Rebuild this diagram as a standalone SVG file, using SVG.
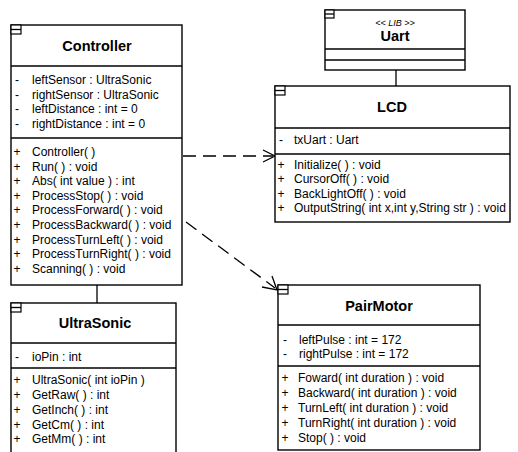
<svg xmlns="http://www.w3.org/2000/svg" width="518" height="452" viewBox="0 0 518 452">
  <style>
    .box { fill: #fff; stroke: #000; stroke-width: 1.4; }
    .sep { stroke: #000; stroke-width: 1.3; }
    .icon { fill: #fff; stroke: #000; stroke-width: 1.2; }
    .title { font-family: "Liberation Sans", Arial, sans-serif; font-weight: bold; font-size: 14.5px; text-anchor: middle; fill: #000; }
    .stereo { font-family: "Liberation Sans", Arial, sans-serif; font-style: italic; font-size: 9px; text-anchor: middle; fill: #000; }
    .mem { font-family: "Liberation Sans", Arial, sans-serif; font-size: 12px; fill: #000; }
    .vis { font-family: "Liberation Sans", Arial, sans-serif; font-size: 12px; fill: #000; text-anchor: middle; }
    .link { stroke: #000; stroke-width: 1.3; fill: none; }
    .dep { stroke: #000; stroke-width: 1.3; fill: none; stroke-dasharray: 13 7; }
    .head { stroke: #000; stroke-width: 1.3; fill: none; }
  </style>

  <!-- connectors -->
  <g id="connectors">
    <line class="link" x1="97" y1="285" x2="97" y2="303"/>
    <line class="link" x1="396" y1="70" x2="396" y2="86"/>
    <line class="dep" x1="183" y1="156" x2="273" y2="156"/>
    <polyline class="head" points="263,150 275,156 263,162"/>
    <line class="dep" x1="186" y1="222" x2="275" y2="288"/>
    <polyline class="head" points="262,287 277,290 272,276"/>
  </g>

  <!-- Controller -->
  <g id="controller">
    <rect class="box" x="11" y="25" width="171" height="260"/>
    <rect class="icon" x="11" y="25" width="10" height="9"/>
    <line class="sep" x1="11" y1="29.5" x2="21" y2="29.5"/>
    <text class="title" x="97" y="51">Controller</text>
    <line class="sep" x1="11" y1="66" x2="182" y2="66"/>
    <g class="vis">
      <text x="17" y="84">-</text><text x="17" y="98.5">-</text><text x="17" y="113">-</text><text x="17" y="128">-</text>
    </g>
    <text class="mem" x="32" y="84">leftSensor : UltraSonic</text>
    <text class="mem" x="32" y="98.5">rightSensor : UltraSonic</text>
    <text class="mem" x="32" y="113">leftDistance : int = 0</text>
    <text class="mem" x="32" y="128">rightDistance : int = 0</text>
    <line class="sep" x1="11" y1="138" x2="182" y2="138"/>
    <g class="vis">
      <text x="17" y="156">+</text><text x="17" y="170.6">+</text><text x="17" y="185.2">+</text><text x="17" y="199.8">+</text><text x="17" y="214.4">+</text><text x="17" y="229">+</text><text x="17" y="243.6">+</text><text x="17" y="258.2">+</text><text x="17" y="272.8">+</text>
    </g>
    <text class="mem" x="32" y="156">Controller( )</text>
    <text class="mem" x="32" y="170.6">Run( ) : void</text>
    <text class="mem" x="32" y="185.2">Abs( int value ) : int</text>
    <text class="mem" x="32" y="199.8">ProcessStop( ) : void</text>
    <text class="mem" x="32" y="214.4">ProcessForward( ) : void</text>
    <text class="mem" x="32" y="229">ProcessBackward( ) : void</text>
    <text class="mem" x="32" y="243.6">ProcessTurnLeft( ) : void</text>
    <text class="mem" x="32" y="258.2">ProcessTurnRight( ) : void</text>
    <text class="mem" x="32" y="272.8">Scanning( ) : void</text>
  </g>

  <!-- UltraSonic -->
  <g id="ultrasonic">
    <rect class="box" x="11" y="303" width="165" height="160"/>
    <rect class="icon" x="11" y="303" width="10" height="9"/>
    <line class="sep" x1="11" y1="307.5" x2="21" y2="307.5"/>
    <text class="title" x="95" y="328">UltraSonic</text>
    <line class="sep" x1="11" y1="343" x2="176" y2="343"/>
    <text class="vis" x="17" y="361">-</text>
    <text class="mem" x="32" y="361">ioPin : int</text>
    <line class="sep" x1="11" y1="368" x2="176" y2="368"/>
    <g class="vis">
      <text x="17" y="384">+</text><text x="17" y="399">+</text><text x="17" y="414">+</text><text x="17" y="429">+</text><text x="17" y="443">+</text>
    </g>
    <text class="mem" x="32" y="384">UltraSonic( int ioPin )</text>
    <text class="mem" x="32" y="399">GetRaw( ) : int</text>
    <text class="mem" x="32" y="414">GetInch( ) : int</text>
    <text class="mem" x="32" y="429">GetCm( ) : int</text>
    <text class="mem" x="32" y="443">GetMm( ) : int</text>
  </g>

  <!-- Uart -->
  <g id="uart">
    <rect class="box" x="325" y="10" width="140" height="60"/>
    <rect class="icon" x="325" y="10" width="9" height="8"/>
    <line class="sep" x1="325" y1="14" x2="334" y2="14"/>
    <text class="stereo" x="395" y="26">&lt;&lt; LIB &gt;&gt;</text>
    <text class="title" x="395" y="41">Uart</text>
    <line class="sep" x1="325" y1="49" x2="465" y2="49"/>
    <line class="sep" x1="325" y1="60" x2="465" y2="60"/>
  </g>

  <!-- LCD -->
  <g id="lcd">
    <rect class="box" x="275" y="86" width="235" height="136"/>
    <rect class="icon" x="275" y="86" width="10" height="9"/>
    <line class="sep" x1="275" y1="90.5" x2="285" y2="90.5"/>
    <text class="title" x="392" y="112">LCD</text>
    <line class="sep" x1="275" y1="128" x2="510" y2="128"/>
    <text class="vis" x="281" y="144">-</text>
    <text class="mem" x="294" y="144">txUart : Uart</text>
    <line class="sep" x1="275" y1="154" x2="510" y2="154"/>
    <g class="vis">
      <text x="281" y="169">+</text><text x="281" y="183">+</text><text x="281" y="197.5">+</text><text x="281" y="212">+</text>
    </g>
    <text class="mem" x="294" y="169">Initialize( ) : void</text>
    <text class="mem" x="294" y="183">CursorOff( ) : void</text>
    <text class="mem" x="294" y="197.5">BackLightOff( ) : void</text>
    <text class="mem" x="294" y="212">OutputString( int x,int y,String str ) : void</text>
  </g>

  <!-- PairMotor -->
  <g id="pairmotor">
    <rect class="box" x="278" y="285" width="202" height="165"/>
    <rect class="icon" x="278" y="285" width="10" height="9"/>
    <line class="sep" x1="278" y1="289.5" x2="288" y2="289.5"/>
    <text class="title" x="379" y="311">PairMotor</text>
    <line class="sep" x1="278" y1="325" x2="480" y2="325"/>
    <text class="vis" x="285" y="344">-</text>
    <text class="vis" x="285" y="358">-</text>
    <text class="mem" x="299" y="344">leftPulse : int = 172</text>
    <text class="mem" x="299" y="358">rightPulse : int = 172</text>
    <line class="sep" x1="278" y1="366" x2="480" y2="366"/>
    <g class="vis">
      <text x="285" y="382">+</text><text x="285" y="397">+</text><text x="285" y="412">+</text><text x="285" y="427">+</text><text x="285" y="442">+</text>
    </g>
    <text class="mem" x="298" y="382">Foward( int duration ) : void</text>
    <text class="mem" x="298" y="397">Backward( int duration ) : void</text>
    <text class="mem" x="298" y="412">TurnLeft( int duration ) : void</text>
    <text class="mem" x="298" y="427">TurnRight( int duration ) : void</text>
    <text class="mem" x="298" y="442">Stop( ) : void</text>
  </g>
</svg>
